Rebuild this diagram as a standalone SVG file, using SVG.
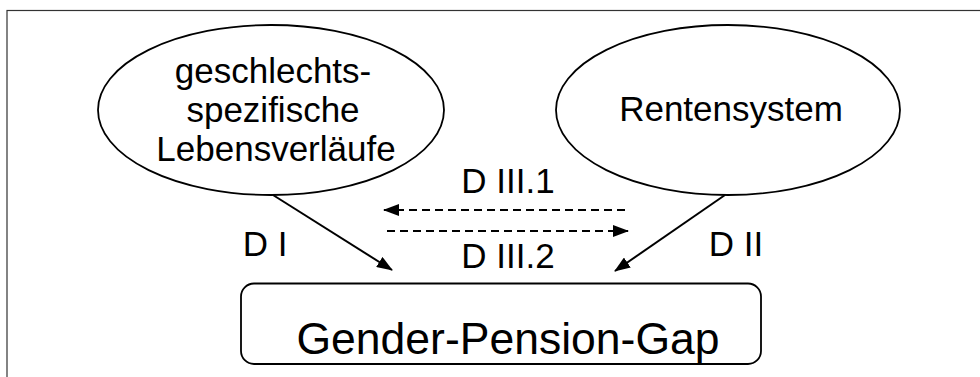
<svg xmlns="http://www.w3.org/2000/svg" width="980" height="377" viewBox="0 0 980 377">
<style>
  .shape { fill: #ffffff; stroke: #000000; stroke-width: 1.8; }
  .txt { font-family: "Liberation Sans", Arial, Helvetica, sans-serif; fill: #000000; text-anchor: middle; }
  .conn { stroke: #000000; stroke-width: 2; fill: none; }
  .dash { stroke-dasharray: 8 5; }
</style>
<defs>
  <marker id="arrow" viewBox="0 0 16 12" refX="15" refY="6" markerWidth="16" markerHeight="12" markerUnits="userSpaceOnUse" orient="auto">
    <path d="M0,0 L16,6 L0,12 z" fill="#000000"/>
  </marker>
</defs>
<rect x="0" y="0" width="980" height="377" fill="#ffffff"/>
<rect x="7" y="10.5" width="990" height="380" fill="none" stroke="#333333" stroke-width="1.2"/>

<g id="node-lebensverlaeufe">
  <ellipse class="shape" cx="271" cy="110" rx="173" ry="85"/>
  <text class="txt" font-size="35" x="273" y="83">geschlechts-</text>
  <text class="txt" font-size="35" x="273" y="122">spezifische</text>
  <text class="txt" font-size="35" x="276" y="161">Lebensverläufe</text>
</g>

<g id="node-rentensystem">
  <ellipse class="shape" cx="728" cy="110" rx="172" ry="85"/>
  <text class="txt" font-size="35" x="731" y="121">Rentensystem</text>
</g>

<g id="node-gap">
  <rect class="shape" x="241" y="283.5" width="520" height="80.5" rx="13" ry="13"/>
  <text class="txt" font-size="44.5" x="508" y="354">Gender-Pension-Gap</text>
</g>

<g id="connectors">
  <line class="conn" x1="273" y1="195" x2="392" y2="270" marker-end="url(#arrow)"/>
  <line class="conn" x1="725" y1="195" x2="615" y2="271" marker-end="url(#arrow)"/>
  <line class="conn dash" x1="625" y1="210" x2="384" y2="210" marker-end="url(#arrow)"/>
  <line class="conn dash" x1="387" y1="231" x2="628" y2="231" marker-end="url(#arrow)"/>
</g>

<g id="labels">
  <text class="txt" font-size="35" x="265" y="256">D I</text>
  <text class="txt" font-size="35" x="736" y="256">D II</text>
  <text class="txt" font-size="35" x="508" y="193">D III.1</text>
  <text class="txt" font-size="35" x="508" y="268">D III.2</text>
</g>
</svg>
